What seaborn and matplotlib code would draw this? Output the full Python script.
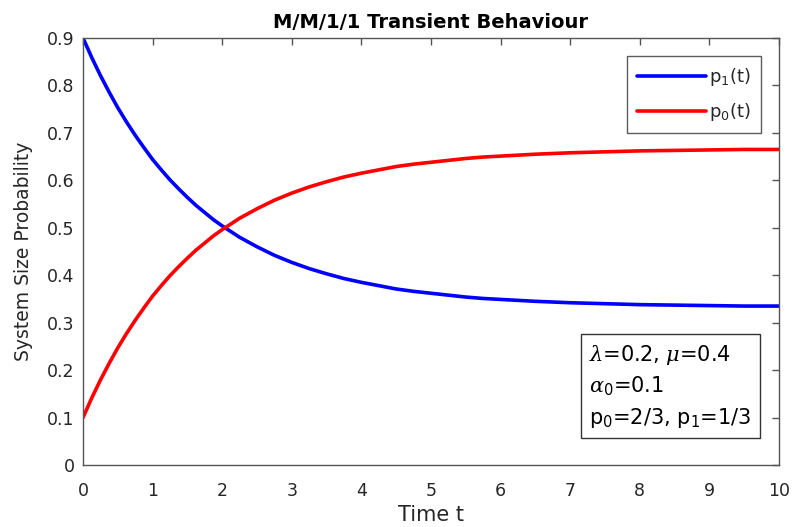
import numpy as np
import pandas as pd
import matplotlib
matplotlib.use("Agg")
import matplotlib.pyplot as plt
import seaborn as sns
from matplotlib.ticker import FuncFormatter

# values
t_vals = [0, 0.125, 0.25, 0.375, 0.5, 0.625, 0.75, 0.875, 1, 1.125, 1.25,
          1.375, 1.5, 1.625, 1.75, 1.875, 2, 2.25, 2.5, 2.75, 3, 3.25, 3.5,
          3.75, 4, 4.25, 4.5, 4.75, 5, 5.25, 5.5, 5.75, 6, 6.5, 7, 7.5, 8,
          8.5, 9, 9.5, 10]
p1_vals = [0.900, 0.859, 0.821, 0.786, 0.753, 0.723, 0.695, 0.669, 0.644,
           0.622, 0.601, 0.582, 0.564, 0.547, 0.532, 0.517, 0.504, 0.480,
           0.460, 0.442, 0.427, 0.414, 0.403, 0.393, 0.385, 0.378, 0.371,
           0.366, 0.362, 0.358, 0.354, 0.351, 0.349, 0.345, 0.342, 0.340,
           0.338, 0.337, 0.336, 0.335, 0.335]
p0_vals = [0.100, 0.141, 0.179, 0.214, 0.247, 0.277, 0.305, 0.331, 0.356,
           0.378, 0.399, 0.418, 0.436, 0.453, 0.468, 0.483, 0.496, 0.520,
           0.540, 0.558, 0.573, 0.586, 0.597, 0.607, 0.615, 0.622, 0.629,
           0.634, 0.638, 0.642, 0.646, 0.649, 0.651, 0.655, 0.658, 0.660,
           0.662, 0.663, 0.664, 0.665, 0.665]
series_names = ["p$_1$(t)", "p$_0$(t)"]
series_colors = ["#0000ff", "#ff0000"]

df = pd.DataFrame({
    "t": t_vals * 2,
    "p": p1_vals + p0_vals,
    "series": [series_names[0]] * len(t_vals) + [series_names[1]] * len(t_vals),
})

sns.set_style("white")
plt.rcParams["font.family"] = ["DejaVu Sans"]
plt.rcParams["mathtext.fontset"] = "custom"
plt.rcParams["mathtext.rm"] = "DejaVu Sans"
plt.rcParams["mathtext.it"] = "DejaVu Serif:italic"

fig = plt.figure(figsize=(7.98, 5.27), dpi=100)
ax = fig.add_axes([0.104, 0.1176, 0.872, 0.8104])

sns.lineplot(data=df, x="t", y="p", hue="series", palette=series_colors,
             linewidth=2.6, ax=ax)

ax.set_xlim(0, 10)
ax.set_ylim(0, 0.9)
ax.set_xticks(np.arange(0, 11, 1))
ax.set_yticks(np.arange(0, 0.91, 0.1))
ax.yaxis.set_major_formatter(FuncFormatter(lambda v, p: "0" if abs(v) < 1e-9 else f"{v:.1f}"))

gray = "#262626"
for s in ax.spines.values():
    s.set_visible(True)
    s.set_color("#555555")
    s.set_linewidth(1.0)
ax.tick_params(direction="in", top=True, right=True, length=5, width=1,
               color="#555555", labelcolor=gray, labelsize=12.5)
ax.tick_params(axis="x", pad=12)
ax.tick_params(axis="y", pad=6)

ax.set_title("M/M/1/1 Transient Behaviour", fontsize=14, fontweight="bold",
             color="black", pad=7)
ax.set_xlabel("Time t", fontsize=15, color=gray, labelpad=4)
ax.set_ylabel("System Size Probability", fontsize=13.5, color=gray, labelpad=10)

leg = ax.legend(loc="upper right", fontsize=13, frameon=True, fancybox=False,
                edgecolor="#333333", handlelength=3.8, handletextpad=0.2,
                borderaxespad=1.0, labelspacing=0.75, borderpad=0.55)
leg.get_frame().set_linewidth(1.0)

ax.text(0.727, 0.082,
        "$\\lambda$=0.2, $\\mu$=0.4\n$\\alpha$$_0$=0.1\np$_0$=2/3, p$_1$=1/3",
        transform=ax.transAxes, fontsize=15, color="black", ha="left",
        va="bottom", linespacing=1.45,
        bbox=dict(boxstyle="square,pad=0.4", facecolor="white",
                  edgecolor="#333333", linewidth=1.0))

fig.savefig("out.png", dpi=100)
